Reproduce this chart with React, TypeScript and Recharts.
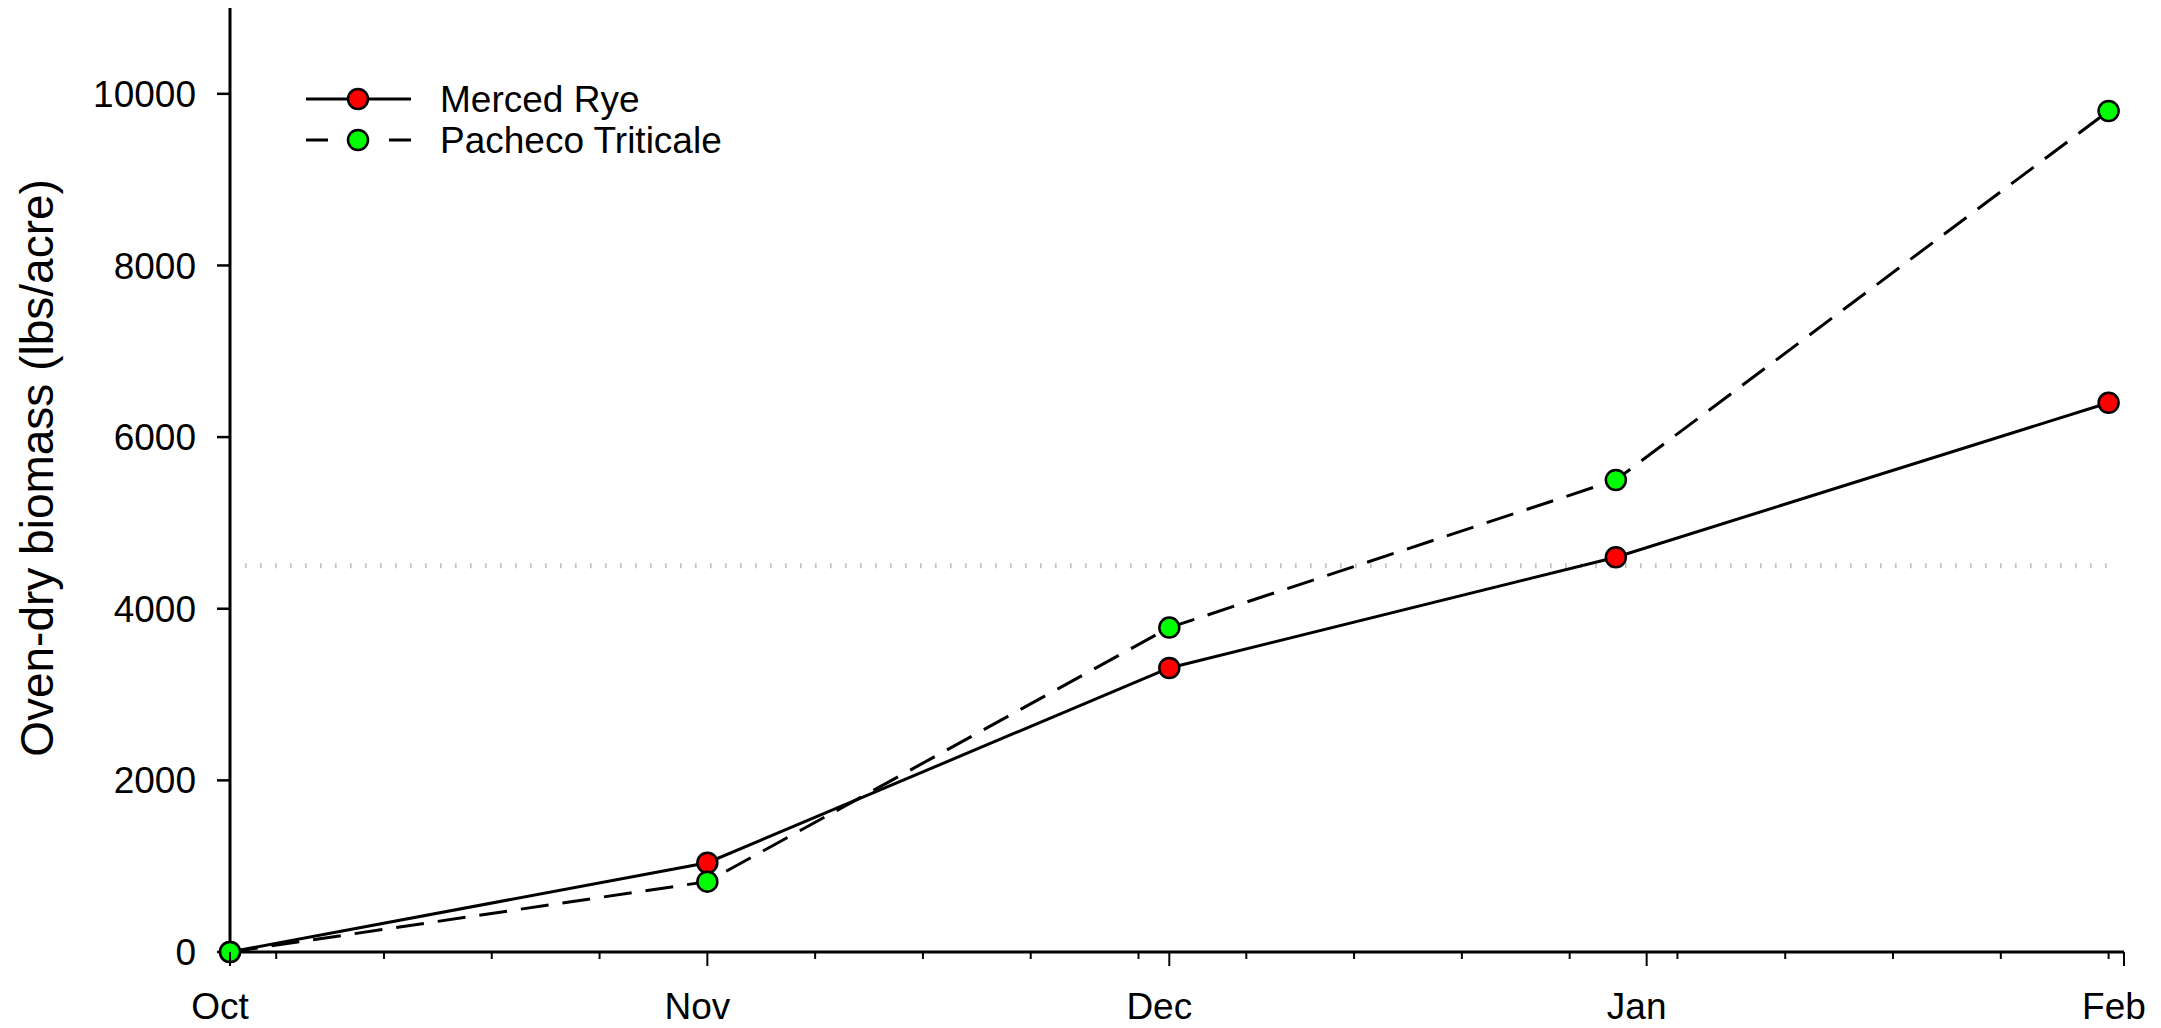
import React from "react";
import { Line, LineChart, ReferenceLine, XAxis, YAxis } from "recharts";

// days counted from Oct 1
const sampleDays = [0, 31, 61, 90, 122];
const mercedRye = [0, 1040, 3310, 4600, 6400];
const pachecoTriticale = [0, 820, 3780, 5500, 9800];

const monthDays = [0, 31, 61, 92, 123];
const monthLabels = ["Oct", "Nov", "Dec", "Jan", "Feb"];
const weekDays = [3, 10, 17, 24, 31, 38, 45, 52, 59, 66, 73, 80, 87, 94, 101, 108, 115, 122];

const yTicks = [0, 2000, 4000, 6000, 8000, 10000];
const thresholdValue = 4500;
const thresholdSpan = [1, 122];

const FONT = "'Liberation Sans', Arial, Helvetica, sans-serif";

const chartData = sampleDays.map((day, i) => ({
  day,
  merced: mercedRye[i],
  pacheco: pachecoTriticale[i],
}));

const xTicks = Array.from(new Set([...monthDays, ...weekDays])).sort((a, b) => a - b);

function DateTick(props: any) {
  const { x, y, payload } = props;
  const idx = monthDays.indexOf(payload.value);
  const major = idx >= 0;
  return (
    <g>
      <line x1={x} x2={x} y1={y} y2={y + (major ? 14 : 7)} stroke="#000" strokeWidth={2} />
      {major && (
        <text x={x - 10} y={y + 67} textAnchor="middle" fontSize={37} fontFamily={FONT} fill="#000">
          {monthLabels[idx]}
        </text>
      )}
    </g>
  );
}

function YTitle(props: any) {
  const { viewBox } = props;
  const cy = viewBox.y + viewBox.height / 2 - 12;
  return (
    <text
      x={37}
      y={cy}
      transform={`rotate(-90, 37, ${cy})`}
      textAnchor="middle"
      dominantBaseline="central"
      fontSize={46}
      fontFamily={FONT}
      fill="#000"
    >
      Oven-dry biomass (lbs/acre)
    </text>
  );
}

function ChartLegend() {
  return (
    <svg width={1000} height={200} style={{ position: "absolute", left: 0, top: 0 }}>
      <line x1={306} x2={411} y1={99} y2={99} stroke="#000" strokeWidth={3} />
      <circle cx={358} cy={99} r={10} fill="#ff0000" stroke="#000" strokeWidth={2.5} />
      <text x={440} y={112} fontSize={37} fontFamily={FONT} fill="#000">Merced Rye</text>
      <line x1={306} x2={411} y1={140} y2={140} stroke="#000" strokeWidth={3} strokeDasharray="22 61 22" />
      <circle cx={358} cy={140} r={10} fill="#00ff00" stroke="#000" strokeWidth={2.5} />
      <text x={440} y={153} fontSize={37} fontFamily={FONT} fill="#000">Pacheco Triticale</text>
    </svg>
  );
}

export default function App() {
  return (
    <div style={{ position: "absolute", left: 0, top: 0, width: 2161, height: 1028, background: "#fff" }}>
      <LineChart width={2161} height={1028} data={chartData} margin={{ top: 8, right: 37, bottom: 0, left: 100 }}>
        <XAxis
          dataKey="day"
          type="number"
          domain={[0, 123]}
          ticks={xTicks}
          interval={0}
          height={76}
          tickSize={0}
          tickMargin={0}
          tickLine={false}
          tick={<DateTick />}
          axisLine={{ stroke: "#000", strokeWidth: 3 }}
        />
        <XAxis
          xAxisId="top"
          orientation="top"
          type="number"
          domain={[0, 123]}
          height={0}
          tick={false}
          tickLine={false}
          axisLine={{ stroke: "#000", strokeWidth: 3 }}
        />
        <YAxis
          type="number"
          domain={[0, 11000]}
          ticks={yTicks}
          width={130}
          tickSize={13}
          tickMargin={21}
          tickLine={{ stroke: "#000", strokeWidth: 2.5 }}
          axisLine={{ stroke: "#000", strokeWidth: 3 }}
          tick={{ fontSize: 37, fontFamily: FONT, fill: "#000" }}
          label={YTitle}
        />
        <YAxis
          yAxisId="right"
          orientation="right"
          domain={[0, 11000]}
          width={0}
          tick={false}
          tickLine={false}
          axisLine={{ stroke: "#000", strokeWidth: 3 }}
        />
        <ReferenceLine
          segment={[
            { x: thresholdSpan[0], y: thresholdValue },
            { x: thresholdSpan[1], y: thresholdValue },
          ]}
          stroke="#999"
          strokeWidth={5}
          strokeDasharray="1 14"
        />
        <Line
          type="linear"
          dataKey="merced"
          name="Merced Rye"
          stroke="#000"
          strokeWidth={3}
          dot={{ r: 10, fill: "#ff0000", stroke: "#000", strokeWidth: 2.5 }}
          isAnimationActive={false}
        />
        <Line
          type="linear"
          dataKey="pacheco"
          name="Pacheco Triticale"
          stroke="#000"
          strokeWidth={3}
          strokeDasharray="28 14"
          dot={{ r: 10, fill: "#00ff00", stroke: "#000", strokeWidth: 2.5, strokeDasharray: "" }}
          isAnimationActive={false}
        />
      </LineChart>
      <ChartLegend />
    </div>
  );
}
